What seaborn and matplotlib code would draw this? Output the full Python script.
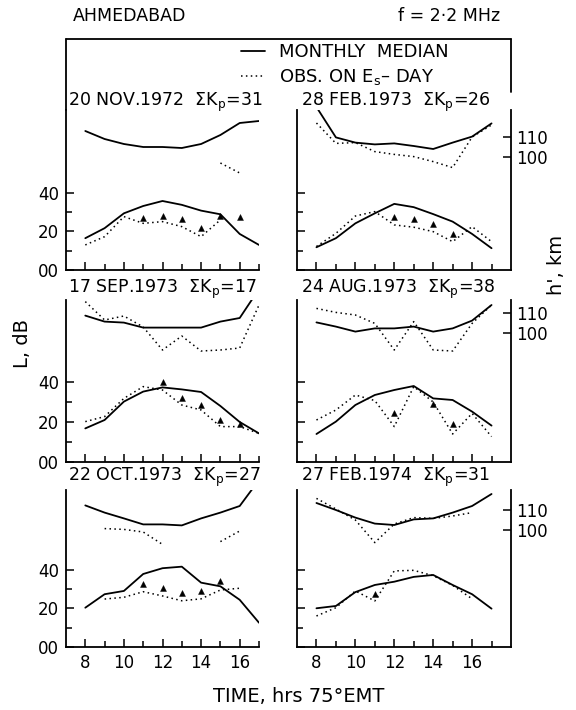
import numpy as np
import pandas as pd
import matplotlib.pyplot as plt
from matplotlib.lines import Line2D
import seaborn as sns

nan = np.nan
hours = [8, 9, 10, 11, 12, 13, 14, 15, 16, 17]

dates = ["20 NOV.1972", "28 FEB.1973", "17 SEP.1973",
         "24 AUG.1973", "22 OCT.1973", "27 FEB.1974"]
kp_sum = [31, 26, 17, 38, 27, 31]

# h', km  (upper curves)
median_h = [
    [113, 109, 106.5, 105, 105, 104.5, 106.5, 111, 117, 118],
    [125, 109.8, 107.2, 106.3, 106.8, 105.5, 104, 107.2, 110.2, 116.8],
    [108.7, 105.7, 105.2, 102.7, 102.7, 102.7, 102.7, 105.7, 107.5, 122],
    [105.3, 103.2, 100.7, 102.3, 102.3, 103.2, 100.7, 102.3, 106.2, 114],
    [112.3, 108.7, 105.8, 102.8, 102.8, 102.3, 105.8, 108.7, 112, 125],
    [113.5, 110, 106.2, 103.2, 102.5, 105.3, 105.8, 108.7, 112, 118],
]
obs_h = [
    [nan, nan, nan, 99, nan, 94.5, nan, 97, 92, nan],
    [117, 106.8, 107.2, 102.7, 101.3, 100.2, 97.7, 94.7, 110, 116],
    [115.7, 106.5, 108.5, 103, 91.5, 98.5, 91, 91.5, 92.5, 114],
    [112.3, 110.3, 109, 104.8, 91.5, 105.7, 91.5, 91, 104.8, 114],
    [nan, 100.7, 100.3, 99, 92.8, nan, nan, 94.2, 99.5, nan],
    [115.8, 110.5, 105, 93.7, 103, 106.2, 105.8, 107, 108.7, nan],
]

# L, dB  (lower curves)
median_L = [
    [16.5, 21.7, 29.4, 33.2, 35.8, 33.8, 30.8, 28.9, 18.7, 13],
    [11.8, 16.5, 24.2, 29.4, 34.3, 32.6, 29, 25.1, 18.7, 11.3],
    [16.8, 21, 30.2, 35.2, 37.3, 36.3, 35, 28, 20, 14.3],
    [14, 20.2, 28.5, 33.5, 36, 38, 31.8, 31, 25.2, 18.2],
    [20.4, 27.4, 29.1, 37.9, 40.9, 41.7, 33.4, 31.5, 24.5, 12.6],
    [20.1, 21.3, 28.5, 32.2, 33.9, 36.4, 37.4, 32.2, 27.4, 19.9],
]
obs_L = [
    [13, 17.3, 27.7, 24.2, 25.1, 22.5, 17.3, 26, nan, nan],
    [12.2, 19, 28, 30.3, 23.4, 22.2, 19.9, 14.7, 22.5, 14.7],
    [20.2, 22.7, 31.8, 37.7, 36, 28.5, 26, 17.7, 17.7, 14.3],
    [21, 26, 33.5, 30.7, 17.7, 37.7, 30, 14, 24.3, 12.7],
    [nan, 24.9, 25.8, 28.7, 26.5, 24, 25, 29.6, 30.5, nan],
    [16.1, 20.4, 29.1, 23.9, 39.5, 39.8, 37, 32, 25, nan],
]
tri_L = [
    [nan, nan, nan, 27, 28, 26.5, 22, 28, 27.5, nan],
    [nan, nan, nan, nan, 27.7, 26.3, 23.9, 18.7, nan, nan],
    [nan, nan, nan, nan, 39.8, 31.8, 28.5, 21, 19, nan],
    [nan, nan, nan, nan, 24.3, nan, 29, 19, nan, nan],
    [nan, nan, nan, 32.7, 30.5, 27.9, 29.1, 34.3, nan, nan],
    [nan, nan, nan, 27.4, nan, nan, nan, nan, nan, nan],
]

sns.set_style("white")
plt.rcParams['font.family'] = ['DejaVu Sans']
plt.rcParams.update({'text.color': 'k', 'axes.edgecolor': 'k',
                     'xtick.color': 'k', 'ytick.color': 'k',
                     'axes.labelcolor': 'k'})

W, H = 576, 710
fig = plt.figure(figsize=(W / 100, H / 100), dpi=100)


def box(x0, x1, y0, y1):
    return [x0 / W, 1 - y1 / H, (x1 - x0) / W, (y1 - y0) / H]


col_x = [(66, 259), (297, 511)]
row_y = [(110, 270), (300, 462), (490, 647)]
L_top = [83, 81, 81.5]
h_lim = [(43.5, 123.5), (35.5, 116.5), (41.5, 120)]
title_y = [102, 289, 477]
title_x = [68, 301]

DOT = (0, (1, 2.2))


def draw(ax, vals, style, lw):
    df = pd.DataFrame({'hour': hours, 'val': vals})
    df['seg'] = df['val'].isna().cumsum()
    df = df.dropna()
    sns.lineplot(data=df, x='hour', y='val', units='seg', estimator=None,
                 color='k', linestyle=style, lw=lw, ax=ax, legend=False)


for i in range(6):
    r, c = divmod(i, 2)
    ax = fig.add_axes(box(*col_x[c], *row_y[r]))
    tw = ax.twinx()

    draw(ax, median_L[i], '-', 1.3)
    draw(ax, obs_L[i], DOT, 1.1)
    tri = pd.DataFrame({'hour': hours, 'val': tri_L[i]}).dropna()
    sns.scatterplot(data=tri, x='hour', y='val', marker='^', color='k',
                    s=18, edgecolor='k', ax=ax, legend=False)
    draw(tw, median_h[i], '-', 1.3)
    draw(tw, obs_h[i], DOT, 1.1)

    ax.set_xlim(7, 17 if c == 0 else 18)
    ax.set_ylim(0, L_top[r])
    tw.set_ylim(*h_lim[r])
    for a in (ax, tw):
        a.set_xlabel('')
        a.set_ylabel('')
        for s in a.spines.values():
            s.set_visible(False)
    ax.spines['left'].set_visible(True)
    ax.spines['bottom'].set_visible(True)
    ax.spines['left'].set_linewidth(1.3)
    ax.spines['bottom'].set_linewidth(1.3)

    ax.set_xticks([8, 10, 12, 14, 16])
    ax.set_xticks([9, 11, 13, 15, 17], minor=True)
    ax.set_yticks([0, 20, 40])
    ax.set_yticks([10, 30], minor=True)
    ax.tick_params(which='both', direction='in', width=1.1, colors='k',
                   bottom=True, left=True, labelsize=12, pad=5)
    ax.tick_params(which='major', length=6)
    ax.tick_params(which='minor', length=4)
    if r == 2:
        ax.set_xticklabels(['8', '10', '12', '14', '16'])
    else:
        ax.set_xticklabels([])
    if c == 0:
        ax.set_yticklabels(['00', '20', '40'])
    else:
        ax.set_yticklabels([])

    if c == 1:
        tw.spines['right'].set_visible(True)
        tw.spines['right'].set_linewidth(1.3)
        tw.set_yticks([100, 110])
        tw.set_yticklabels(['100', '110'])
        tw.tick_params(axis='y', direction='in', length=6, width=1.1,
                       right=True, labelsize=12, pad=4)
    else:
        tw.set_yticks([])

    fig.text(title_x[c] / W, 1 - title_y[r] / H,
             dates[i] + '  ΣK$_\\mathregular{p}$=' + str(kp_sum[i]),
             fontsize=12.5, va='center', ha='left')

# frame around the legend area
for (x0, y0, x1, y1) in [(66, 39, 511, 39), (66, 39, 66, 110), (511, 39, 511, 92)]:
    fig.add_artist(Line2D([x0 / W, x1 / W], [1 - y0 / H, 1 - y1 / H],
                          color='k', lw=1.3, transform=fig.transFigure))

handles = [Line2D([], [], color='k', lw=1.3),
           Line2D([], [], color='k', lw=1.1, linestyle=DOT)]
fig.legend(handles, ['MONTHLY  MEDIAN', 'OBS. ON E$_\\mathregular{s}$– DAY'],
           loc='center left', bbox_to_anchor=(232 / W, 1 - 65 / H),
           frameon=False, fontsize=13, handlelength=1.3, handletextpad=0.8,
           labelspacing=0.35, borderpad=0)

fig.text(73 / W, 1 - 16 / H, 'AHMEDABAD', fontsize=12.5, va='center')
fig.text(500 / W, 1 - 16 / H, 'f = 2·2 MHz', fontsize=12.5, va='center', ha='right')
fig.text(22 / W, 1 - 343 / H, 'L, dB', fontsize=14, rotation=90, va='center', ha='center')
fig.text(556 / W, 1 - 265 / H, "h', km", fontsize=14, rotation=90, va='center', ha='center')
fig.text(299 / W, 1 - 696 / H, 'TIME, hrs 75°EMT', fontsize=14, va='center', ha='center')

fig.savefig('out.png', dpi=100, facecolor='white')
